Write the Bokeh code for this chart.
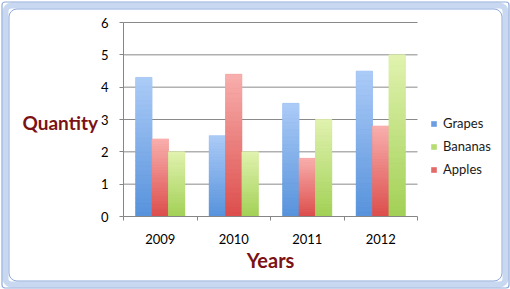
import numpy as np
from bokeh.plotting import figure
from bokeh.models import (Range1d, FixedTicker, CustomJSTickFormatter, Legend, LegendItem,
                          ColumnDataSource, Label, BoxAnnotation)
from bokeh.embed import file_html
from bokeh.resources import INLINE

years = ["2009", "2010", "2011", "2012"]
bar_series = ["Grapes", "Apples", "Bananas"]          # order of bars inside a group
legend_order = ["Grapes", "Bananas", "Apples"]       # order shown in legend
grapes = [4.3, 2.5, 3.5, 4.5]
apples = [2.4, 4.4, 1.8, 2.8]
bananas = [2.0, 2.0, 3.0, 5.0]
y_ticks = [0, 1, 2, 3, 4, 5, 6]

values = {"Grapes": grapes, "Apples": apples, "Bananas": bananas}
grad = {  # (top light, bottom dark)
    "Grapes": ("#abcbf7", "#5893dc"),
    "Apples": ("#f8aeac", "#dc4f4d"),
    "Bananas": ("#e0f2ae", "#a3d157"),
}
legend_col = {"Grapes": "#6c9de2", "Apples": "#e36a68", "Bananas": "#b6dc72"}

FONT = "Lato"
DARKRED = "#7b1214"
W, H = 510, 289
# plot area (pixels) inside the canvas
PL, PR, PT, PB = 123, 417, 22, 216
NX = len(years)
YMAX = y_ticks[-1]
PXU = (PR - PL) / NX
PYU = (PB - PT) / YMAX

def X(px):
    return (px - PL) / PXU
def Y(py):
    return (PB - py) / PYU

p = figure(width=W, height=H, output_backend="svg", toolbar_location=None,
           x_range=Range1d(X(0), X(W)), y_range=Range1d(Y(H), Y(0)),
           min_border=0, min_border_left=0, min_border_right=0,
           min_border_top=0, min_border_bottom=0)
p.background_fill_color = "white"
p.border_fill_color = "white"
p.outline_line_color = None
p.xgrid.visible = False
p.ygrid.visible = False

# horizontal gridlines across the plot area
p.segment(x0=[0] * (len(y_ticks) - 1), x1=[NX] * (len(y_ticks) - 1),
          y0=y_ticks[1:], y1=y_ticks[1:], line_color="#8a8a8a", line_width=1, level="underlay")

bw = 0.223
def hex2rgb(h):
    h = h.lstrip("#")
    return np.array([int(h[i:i+2], 16) for i in (0, 2, 4)], dtype=float)
def rgb2hex(c):
    return "#%02x%02x%02x" % tuple(int(round(v)) for v in c)

N = 30
renderers = {}
for si, s in enumerate(bar_series):
    vals = values[s]
    xs = [i + 0.5 + (si - 1) * bw for i in range(NX)]
    r = p.vbar(x=xs, top=vals, bottom=0, width=bw, fill_color=legend_col[s], line_color=None)
    renderers[s] = r
    top_c, bot_c = hex2rgb(grad[s][0]), hex2rgb(grad[s][1])
    bx, bb, bt, bc = [], [], [], []
    for x, v in zip(xs, vals):
        for k in range(N):
            t = k / (N - 1)
            bx.append(x)
            bb.append(v * k / N)
            bt.append(v * (k + 1) / N)
            bc.append(rgb2hex(bot_c + (top_c - bot_c) * t))
    src = ColumnDataSource(dict(x=bx, bottom=bb, top=bt, color=bc))
    p.vbar(x="x", bottom="bottom", top="top", width=bw, fill_color="color",
           line_color="color", line_width=0.6, source=src)

# axes (placed at data 0 inside the canvas)
xa = p.xaxis[0]
xa.fixed_location = 0
xa.bounds = (0, NX)
xa.ticker = FixedTicker(ticks=[i + 0.5 for i in range(NX)], minor_ticks=list(range(NX + 1)))
xa.formatter = CustomJSTickFormatter(args=dict(labels=years),
                                     code="return labels[Math.floor(tick)];")
xa.major_tick_out = 0
xa.major_tick_in = 0
xa.minor_tick_out = 4
xa.minor_tick_in = 0
xa.minor_tick_line_color = "#868686"
xa.axis_line_color = "#868686"
xa.major_label_standoff = 13
xa.major_label_text_font = FONT
xa.major_label_text_font_size = "13px"
xa.major_label_text_color = "black"

ya = p.yaxis[0]
ya.fixed_location = 0
ya.bounds = (0, YMAX)
ya.ticker = FixedTicker(ticks=y_ticks)
ya.major_tick_out = 4
ya.major_tick_in = 0
ya.minor_tick_line_color = None
ya.major_tick_line_color = "#868686"
ya.axis_line_color = "#868686"
ya.major_label_standoff = 11
ya.major_label_text_font = FONT
ya.major_label_text_font_size = "13px"
ya.major_label_text_color = "black"

# axis titles
p.add_layout(Label(x=X(22), y=Y(122), text="Quantity", text_font=FONT, text_font_style="bold",
                   text_font_size="19px", text_color=DARKRED, text_baseline="middle",
                   text_align="left"))
p.add_layout(Label(x=X(270), y=Y(259), text="Years", text_font=FONT, text_font_style="bold",
                   text_font_size="20px", text_color=DARKRED, text_baseline="middle",
                   text_align="center"))

legend = Legend(items=[LegendItem(label=s, renderers=[renderers[s]]) for s in legend_order],
                location=(430, H - 177), orientation="vertical",
                glyph_width=7, glyph_height=7, label_height=12, label_standoff=6,
                spacing=7, padding=0, margin=0,
                label_text_font=FONT, label_text_font_size="13px", label_text_color="#1a1a1a",
                border_line_color=None, background_fill_alpha=0)
p.add_layout(legend, "center")

# chart frame (selection border)
def frame_box(off, color, lw, radius):
    return BoxAnnotation(left=X(off), right=X(W - off), top=Y(off), bottom=Y(H - off),
                         fill_color=None, fill_alpha=0, line_color=color, line_alpha=1,
                         line_width=lw, border_radius=radius, level="overlay")
for b in (frame_box(5, "#c9d8f1", 6, 6), frame_box(1.5, "#8eaad9", 1.2, 3),
          frame_box(8.5, "#8eaad9", 1, 8)):
    p.add_layout(b)

# resize handles on the frame
hx = [X(253 + 3 * i) for i in range(4)] * 2 + [X(4.5)] * 4 + [X(505)] * 4
hy = [Y(5)] * 4 + [Y(284)] * 4 + [Y(139 + 3 * i) for i in range(4)] * 2
p.scatter(x=hx, y=hy, marker="square", size=1.6, fill_color="#3f62a8", line_color=None,
          level="overlay")

open("out.html", "w").write(file_html(p, INLINE))
